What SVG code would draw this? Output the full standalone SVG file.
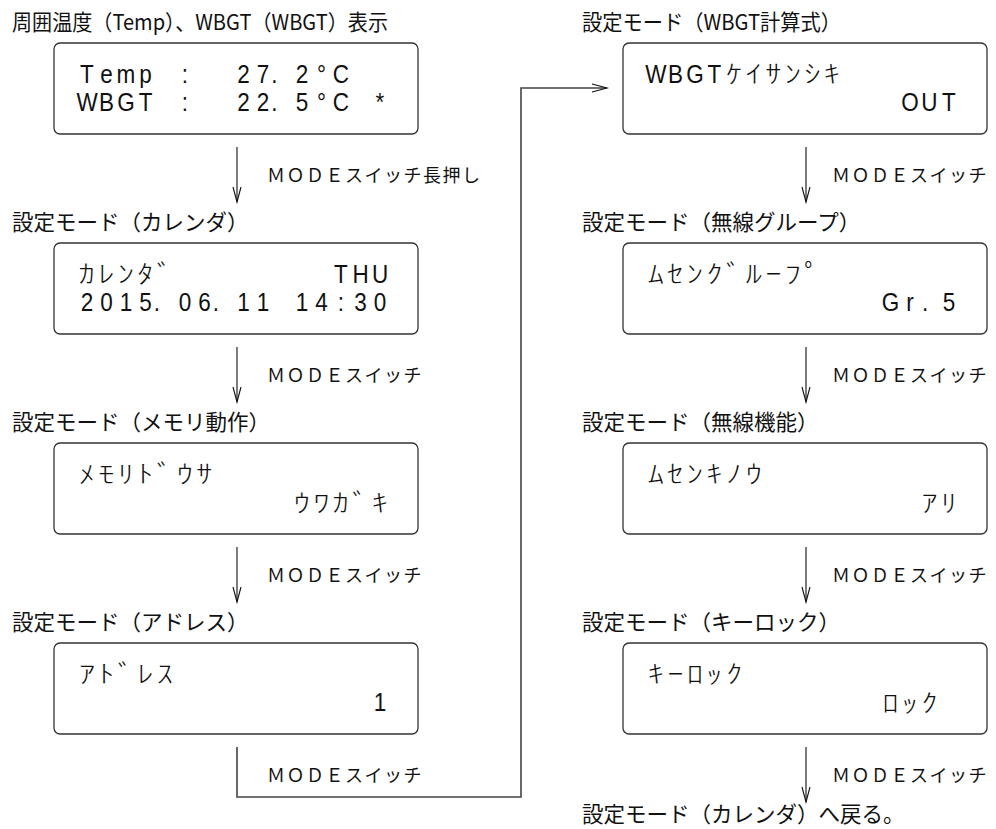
<svg xmlns="http://www.w3.org/2000/svg" width="996" height="829" viewBox="0 0 996 829">
<style>
.bg{fill:#fff}
.box{fill:#fff;stroke:#333;stroke-width:1.3}
.hd{font-family:"Noto Sans CJK JP","Liberation Sans",sans-serif;font-size:21.5px;fill:#111}
.lcd{font-family:"Liberation Sans","Noto Sans CJK JP",sans-serif;font-size:25px;fill:#111;text-anchor:middle}
.kana{font-family:"Noto Sans CJK JP",sans-serif;font-size:25px;font-weight:300;fill:#111;text-anchor:middle}
.lbl{font-family:"Noto Sans CJK JP","Liberation Sans",sans-serif;font-size:18px;letter-spacing:1.5px;fill:#111}
.arr{fill:none;stroke:#111;stroke-width:1.1}
.con{fill:none;stroke:#444;stroke-width:1.6}
</style>
<rect class="bg" x="0" y="0" width="996" height="829"/>

<g id="connectors">
  <g id="a1"><line class="arr" x1="237" y1="147" x2="237" y2="202"/><polyline class="arr" points="233,187 237,202 241,187"/></g>
  <g id="a2"><line class="arr" x1="237" y1="347" x2="237" y2="402"/><polyline class="arr" points="233,387 237,402 241,387"/></g>
  <g id="a3"><line class="arr" x1="237" y1="547" x2="237" y2="602"/><polyline class="arr" points="233,587 237,602 241,587"/></g>
  <g id="a4"><polyline class="con" points="237,747 237,797 521,797 521,88 607,88"/><polyline class="arr" points="592,84 607,88 592,92"/></g>
  <g id="a5"><line class="arr" x1="806" y1="147" x2="806" y2="202"/><polyline class="arr" points="802,187 806,202 810,187"/></g>
  <g id="a6"><line class="arr" x1="806" y1="347" x2="806" y2="402"/><polyline class="arr" points="802,387 806,402 810,387"/></g>
  <g id="a7"><line class="arr" x1="806" y1="547" x2="806" y2="602"/><polyline class="arr" points="802,587 806,602 810,587"/></g>
  <g id="a8"><line class="arr" x1="806" y1="747" x2="806" y2="802"/><polyline class="arr" points="802,787 806,802 810,787"/></g>
  <text class="lbl" x="267" y="182">ＭＯＤＥスイッチ長押し</text>
  <text class="lbl" x="267" y="382">ＭＯＤＥスイッチ</text>
  <text class="lbl" x="267" y="582">ＭＯＤＥスイッチ</text>
  <text class="lbl" x="267" y="782">ＭＯＤＥスイッチ</text>
  <text class="lbl" x="832" y="182">ＭＯＤＥスイッチ</text>
  <text class="lbl" x="832" y="382">ＭＯＤＥスイッチ</text>
  <text class="lbl" x="832" y="582">ＭＯＤＥスイッチ</text>
  <text class="lbl" x="832" y="782">ＭＯＤＥスイッチ</text>
</g>

<g id="n-temp">
  <text class="hd" x="12" y="30" textLength="376" lengthAdjust="spacingAndGlyphs">周囲温度（Temp）、WBGT（WBGT）表示</text>
  <rect class="box" x="54" y="43" width="364" height="91" rx="6"/>
  <g transform="scale(0.9,1)">
    <text class="lcd" x="96.67 118.33 140 161.67 205.56 270.56 292.22 305 335.56 357.22 378.89" y="83">Temp:27.2°C</text>
    <text class="lcd" x="96.67 118.33 140 161.67 205.56 270.56 292.22 305 335.56 357.22 378.89 422.22" y="111">WBGT:22.5°C*</text>
  </g>
</g>

<g id="n-calendar">
  <text class="hd" x="12" y="230">設定モード（カレンダ）</text>
  <rect class="box" x="54" y="243" width="364" height="91" rx="6"/>
  <g transform="scale(1.3,1)"><text class="kana" x="66.92 81.92 96.92 111.92 126.92" y="283">ｶﾚﾝﾀﾞ</text></g>
  <g transform="scale(0.9,1)">
    <text class="lcd" x="378.89 400.56 422.22" y="283">THU</text>
    <text class="lcd" x="96.67 118.33 140 161.67 174.44 205.56 227.22 240 270.56 292.22 335.56 357.22 378.89 400.56 422.22" y="311">2015.06.1114:30</text>
  </g>
</g>

<g id="n-memory">
  <text class="hd" x="12" y="430">設定モード（メモリ動作）</text>
  <rect class="box" x="54" y="443" width="364" height="91" rx="6"/>
  <g transform="scale(1.3,1)">
    <text class="kana" x="66.92 81.92 96.92 111.92 126.92 142.31 157.31" y="483">ﾒﾓﾘﾄﾞｳｻ</text>
    <text class="kana" x="232.31 247.31 262.31 277.31 292.31" y="512">ｳﾜｶﾞｷ</text>
  </g>
</g>

<g id="n-address">
  <text class="hd" x="12" y="630">設定モード（アドレス）</text>
  <rect class="box" x="54" y="643" width="364" height="91" rx="6"/>
  <g transform="scale(1.3,1)"><text class="kana" x="66.92 81.92 96.92 111.92 126.92" y="683">ｱﾄﾞﾚｽ</text></g>
  <g transform="scale(0.9,1)"><text class="lcd" x="422.22" y="711">1</text></g>
</g>

<g id="n-wbgtcalc">
  <text class="hd" x="582" y="30" textLength="259" lengthAdjust="spacingAndGlyphs">設定モード（WBGT計算式）</text>
  <rect class="box" x="623" y="43" width="364" height="91" rx="6"/>
  <g transform="scale(0.9,1)">
    <text class="lcd" x="728.89 750.56 772.22 793.89" y="83">WBGT</text>
    <text class="lcd" x="1011.11 1032.78 1054.44" y="111">OUT</text>
  </g>
  <g transform="scale(1.3,1)"><text class="kana" x="564.62 580 595 610 625 640" y="83">ｹｲｻﾝｼｷ</text></g>
</g>

<g id="n-group">
  <text class="hd" x="582" y="230">設定モード（無線グループ）</text>
  <rect class="box" x="623" y="243" width="364" height="91" rx="6"/>
  <g transform="scale(1.3,1)"><text class="kana" x="504.62 519.62 534.62 549.62 564.62 580 595 610 625" y="283">ﾑｾﾝｸﾞﾙｰﾌﾟ</text></g>
  <g transform="scale(0.9,1)"><text class="lcd" x="989.44 1011.11 1027.78 1054.44" y="311">Gr.5</text></g>
</g>

<g id="n-wireless">
  <text class="hd" x="582" y="430">設定モード（無線機能）</text>
  <rect class="box" x="623" y="443" width="364" height="91" rx="6"/>
  <g transform="scale(1.3,1)">
    <text class="kana" x="504.62 519.62 534.62 549.62 564.62 580" y="483">ﾑｾﾝｷﾉｳ</text>
    <text class="kana" x="715 730" y="512">ｱﾘ</text>
  </g>
</g>

<g id="n-keylock">
  <text class="hd" x="582" y="630">設定モード（キーロック）</text>
  <rect class="box" x="623" y="643" width="364" height="91" rx="6"/>
  <g transform="scale(1.3,1)">
    <text class="kana" x="504.62 519.62 534.62 549.62 564.62" y="683">ｷｰﾛｯｸ</text>
    <text class="kana" x="685 700 715" y="712">ﾛｯｸ</text>
  </g>
</g>

<g id="n-return">
  <text class="hd" x="582" y="822">設定モード（カレンダ）へ戻る。</text>
</g>
</svg>
